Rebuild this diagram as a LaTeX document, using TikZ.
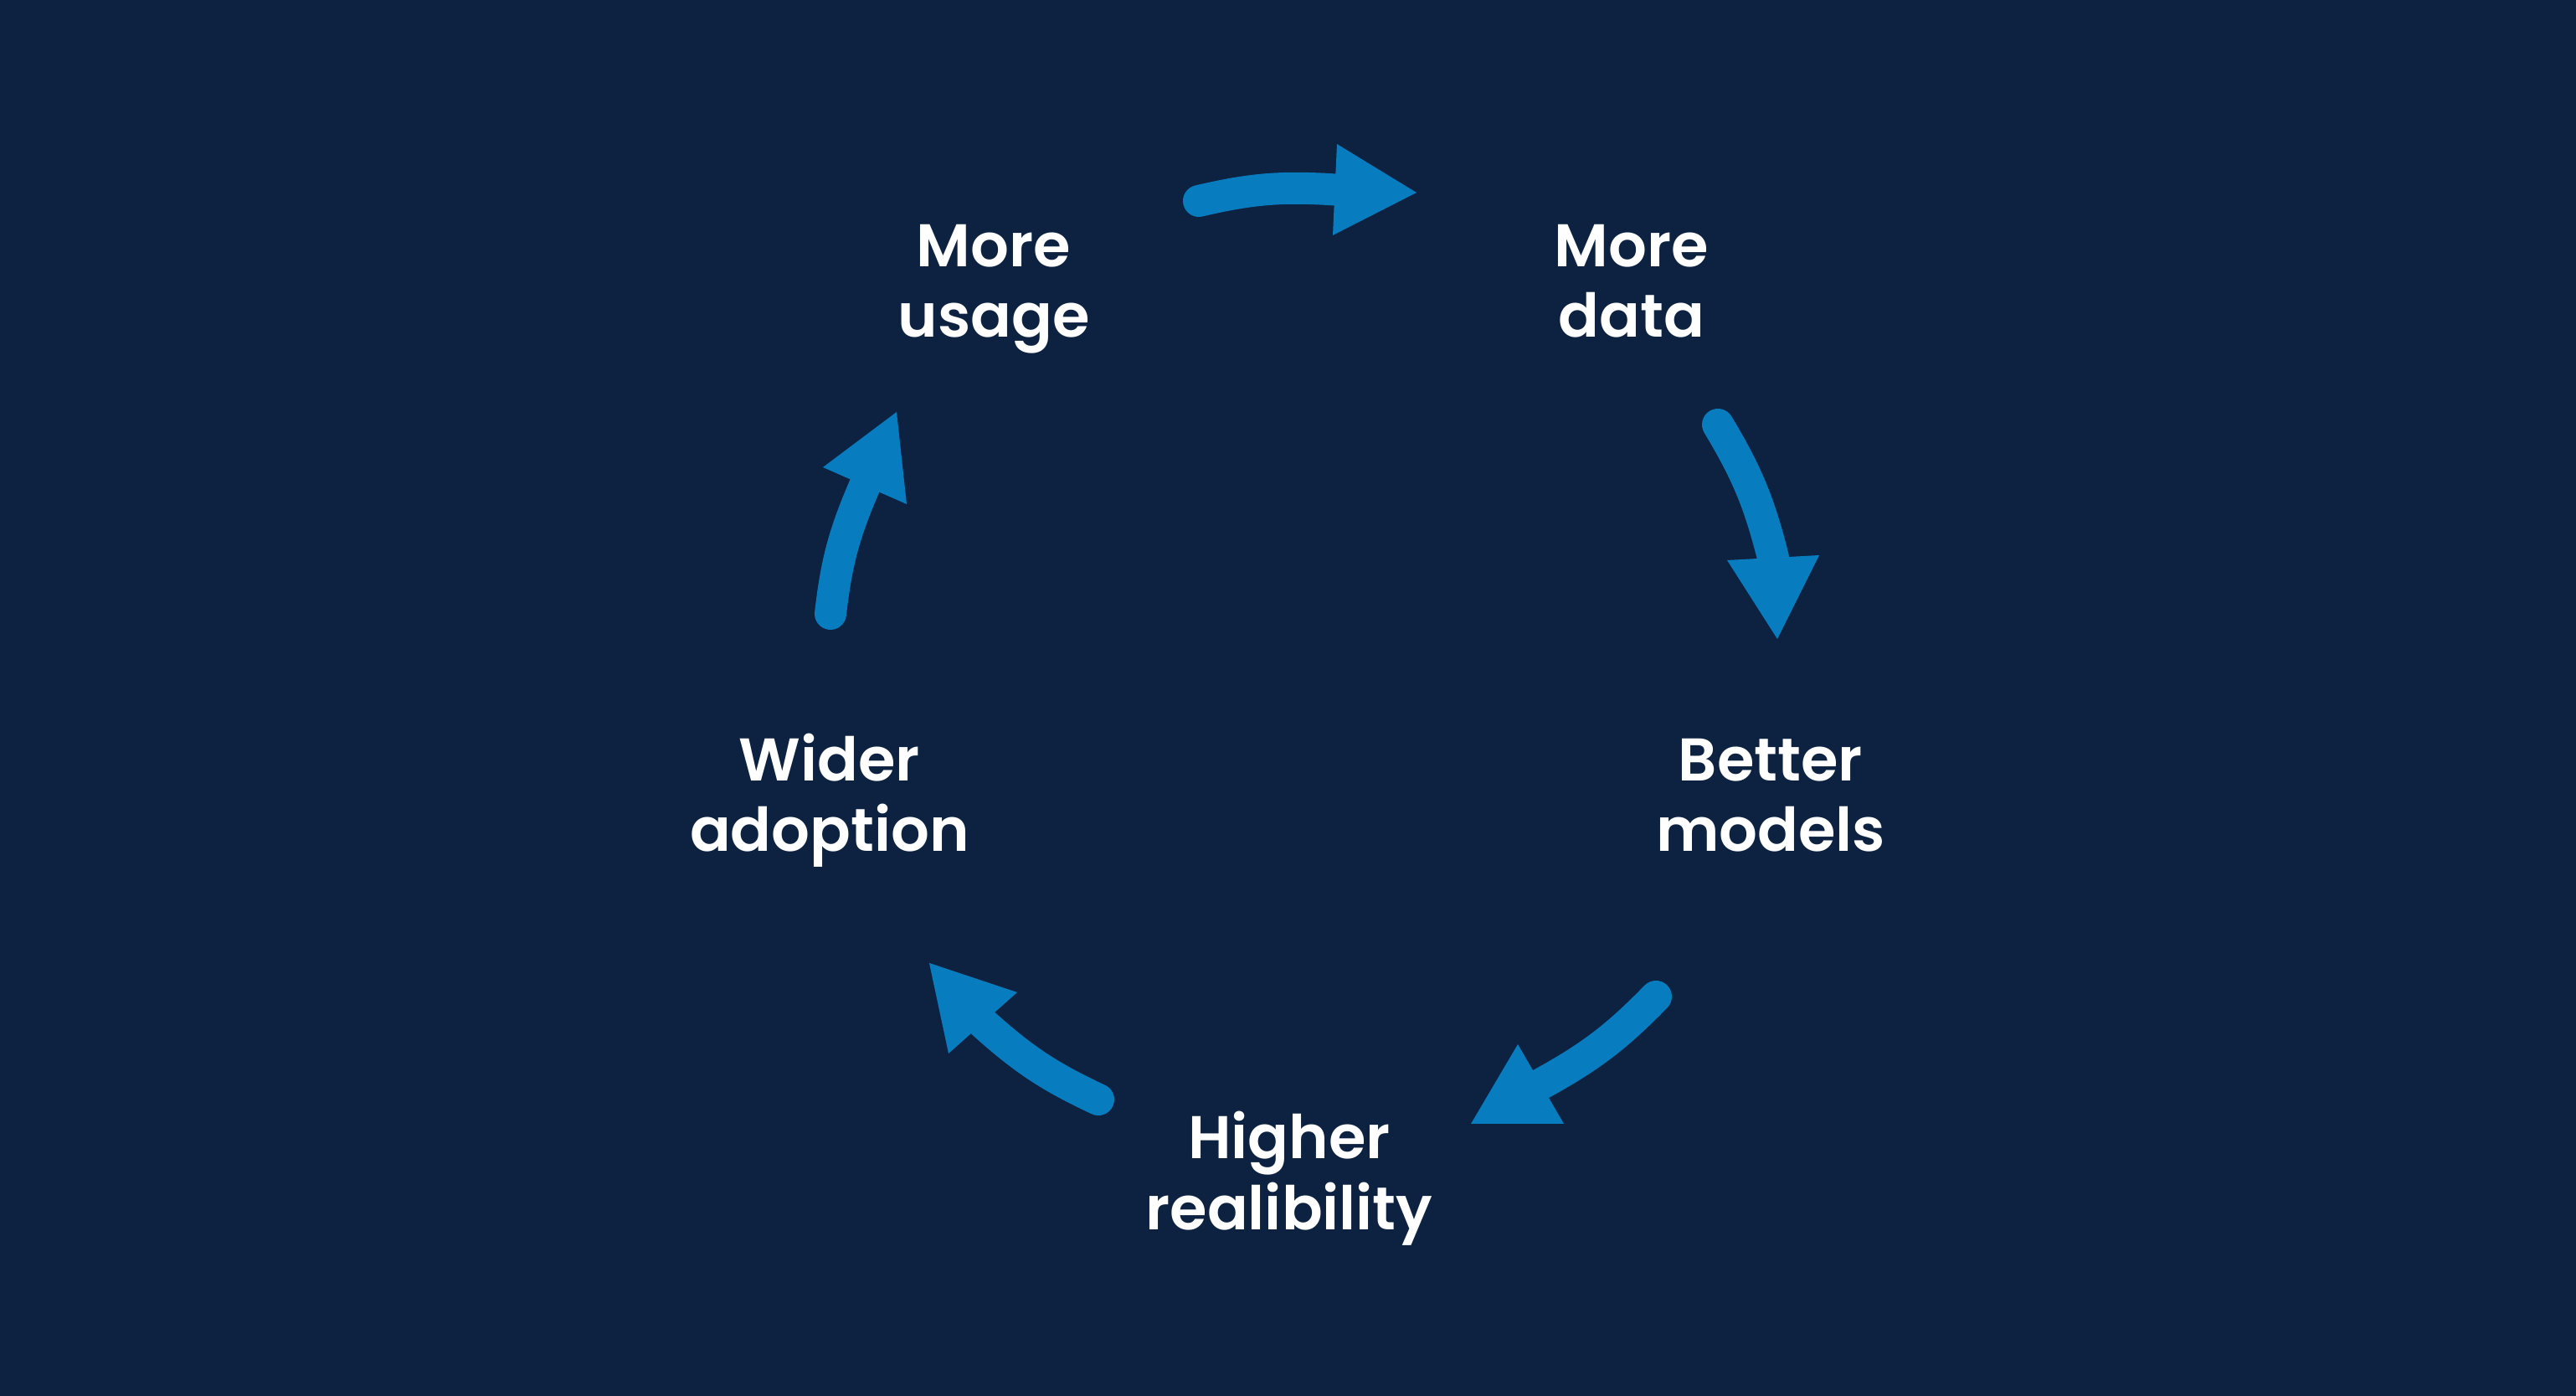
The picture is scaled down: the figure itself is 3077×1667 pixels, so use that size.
\documentclass[tikz,border=0pt]{standalone}
\usepackage{fontspec}
\setmainfont{Poppins SemiBold}
\definecolor{bg}{HTML}{0C2240}
\definecolor{ablue}{HTML}{077DC0}
\begin{document}
\begin{tikzpicture}[x=0.25pt,y=-0.25pt,
  lbl/.style={text=white, align=center, font=\fontsize{18}{21.2}\selectfont, inner sep=0pt, anchor=base},
  stroke/.style={draw=ablue, line width=9.5pt, line cap=round},
  head/.style={fill=ablue}]
\fill[bg] (0,0) rectangle (3077,1667);
\useasboundingbox (0,0) rectangle (3077,1667);
% labels (anchor = baseline of last line)
\node[lbl] (usage) at (1187,403) {More\\usage};
\node[lbl] (data) at (1949,403) {More\\data};
\node[lbl] (models) at (2115,1017) {Better\\models};
\node[lbl] (rel) at (1540,1468) {Higher\\realibility};
\node[lbl] (adopt) at (991,1017) {Wider\\adoption};
% arrow coordinates
\coordinate (s1) at (1432,240); \coordinate (m1) at (1594.5,226.5);
\coordinate (a1) at (1597,172); \coordinate (b1) at (1592,281); \coordinate (t1) at (1692,230);
\coordinate (s2) at (2052,507); \coordinate (m2) at (2118,666);
\coordinate (a2) at (2173,663); \coordinate (b2) at (2063,669); \coordinate (t2) at (2123,763);
\coordinate (s3) at (1978,1190); \coordinate (m3) at (1840.5,1294.5);
\coordinate (a3) at (1868,1342); \coordinate (b3) at (1813,1247); \coordinate (t3) at (1757,1342);
\coordinate (s4) at (1312,1313); \coordinate (m4) at (1174,1221.5);
\coordinate (a4) at (1133,1258); \coordinate (b4) at (1215,1185); \coordinate (t4) at (1110,1150);
\coordinate (s5) at (992,733); \coordinate (m5) at (1033,580);
\coordinate (a5) at (983,558); \coordinate (b5) at (1083,602); \coordinate (t5) at (1071,492);
% arrows
\foreach \i in {1,...,5}{
  \draw[stroke] (s\i) to[bend left=8.5] (m\i);
  \fill[head] (a\i) -- (t\i) -- (b\i) -- cycle;
}
\end{tikzpicture}
\end{document}
